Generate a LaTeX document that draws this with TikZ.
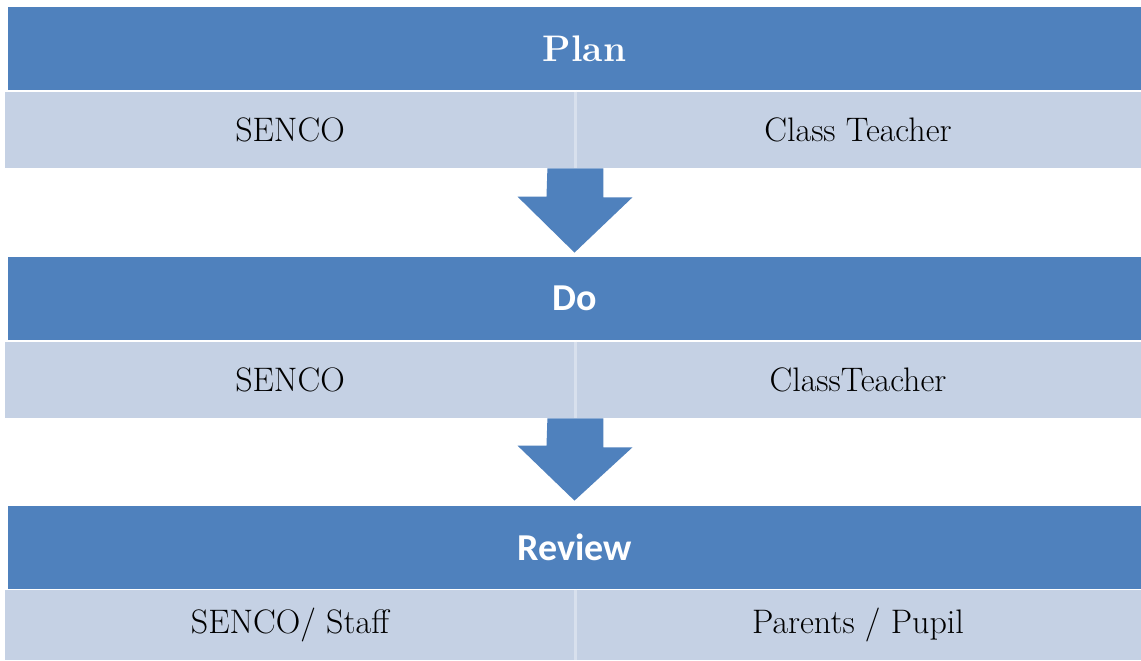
\documentclass[tikz,border=0pt]{standalone}
\usepackage{fontspec}
\newfontfamily\carlito{Carlito}
\usetikzlibrary{calc}
\definecolor{hdrblue}{HTML}{4F81BD}
\definecolor{cellblue}{HTML}{C5D1E4}
\definecolor{divline}{HTML}{D8E0ED}
\begin{document}
\begin{tikzpicture}[x=0.5pt,y=-0.5pt,
  hdr/.style={fill=hdrblue, inner sep=0pt, minimum width=566.5pt, minimum height=41.5pt, text=white},
  cellL/.style={fill=cellblue, inner sep=0pt, minimum width=285pt, minimum height=38pt, font=\fontsize{17}{20}\selectfont},
  cellR/.style={fill=cellblue, inner sep=0pt, minimum width=283pt, minimum height=38pt, font=\fontsize{17}{20}\selectfont},
  serifhead/.style={font=\bfseries\fontsize{18.5}{22}\selectfont},
  sanshead/.style={font=\carlito\bfseries\fontsize{19}{23}\selectfont},
  divider/.style={draw=divline, line width=1.5pt},
  flowarrow/.style={fill=hdrblue}
]
\fill[white] (0,0) rectangle (1141,660);
\useasboundingbox (0,0) rectangle (1141,660);

% Plan
\node[hdr, serifhead] (plan) at (574.5,48.5) {\hspace*{10pt}Plan};
\node[cellL] (r1l) at (290,130) {SENCO};
\node[cellR] (r1r) at (858,130) {Class Teacher};
\draw[divider] (r1l.north east) -- (r1l.south east);

% Do
\node[hdr, sanshead] (do) at (574.5,298.5) {Do};
\node[cellL] (r2l) at (290,380) {SENCO};
\node[cellR] (r2r) at (858,380) {ClassTeacher};
\draw[divider] (r2l.north east) -- (r2l.south east);

% Review
\node[hdr, sanshead] (review) at (574.5,547.5) {Review};
\node[cellL, minimum height=35pt] (r3l) at (290,625) {SENCO/ Staff};
\node[cellR, minimum height=35pt] (r3r) at (858,625) {Parents / Pupil};
\draw[divider] (r3l.north east) -- (r3l.south east);

% arrows
\fill[flowarrow] ($(r1l.south east)+(-28,0)$) -- ++(56,0) -- ++(0,29) -- ++(29,0)
  -- ($(do.north)+(0,-4)$) -- ++(-57,-56) -- ++(29,0) -- cycle;
\fill[flowarrow] ($(r2l.south east)+(-28,0)$) -- ++(56,0) -- ++(0,29) -- ++(29,0)
  -- ($(review.north)+(0,-5)$) -- ++(-57,-55) -- ++(29,0) -- cycle;
\end{tikzpicture}
\end{document}
